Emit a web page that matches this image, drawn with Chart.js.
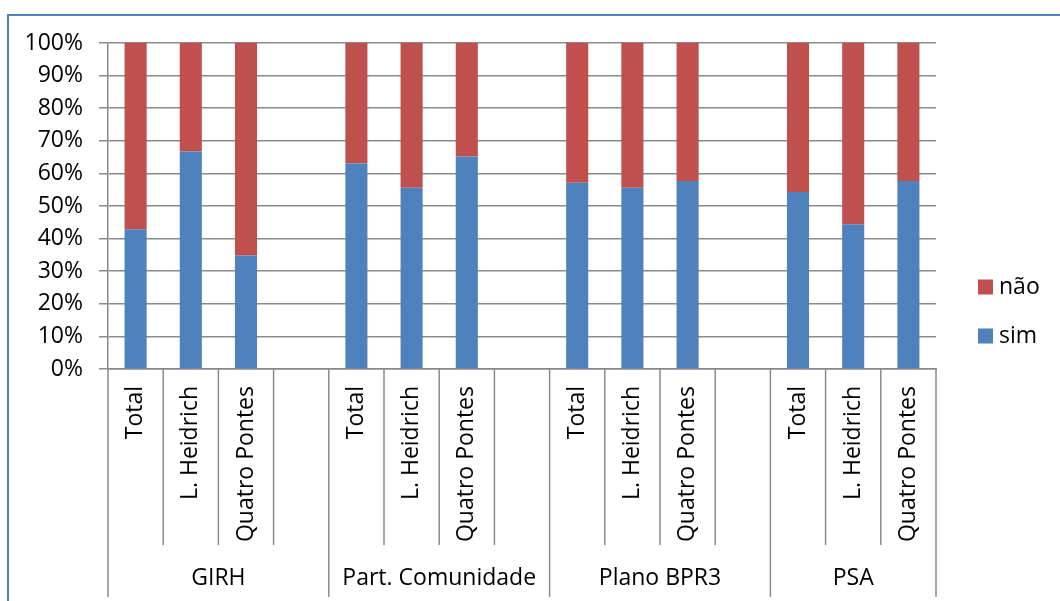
<!DOCTYPE html>
<html>
<head>
<meta charset="utf-8">
<script src="https://cdn.jsdelivr.net/npm/chart.js@4/dist/chart.umd.min.js"></script>
<style>
  html, body { margin: 0; padding: 0; background: #fff; }
  #wrap { position: relative; width: 1060px; height: 601px; overflow: hidden; }
  #frame { position: absolute; left: 7px; top: 14px; width: 1200px; height: 700px;
           border: 2px solid #4f81bd; box-sizing: border-box; pointer-events: none; }
  canvas { position: absolute; left: 0; top: 0; }
</style>
</head>
<body>
<div id="wrap">
  <canvas id="c" width="1060" height="601"></canvas>
  <div id="frame"></div>
</div>
<script>
// Sub-categories (blank slots separate the groups)
const categories = [
  'Total', 'L. Heidrich', 'Quatro Pontes', '',
  'Total', 'L. Heidrich', 'Quatro Pontes', '',
  'Total', 'L. Heidrich', 'Quatro Pontes', '',
  'Total', 'L. Heidrich', 'Quatro Pontes'
];
const groups = ['GIRH', 'Part. Comunidade', 'Plano BPR3', 'PSA'];
const groupSizes = [4, 4, 4, 3];

// Share of answers (%)
const sim = [42.9, 66.7, 34.8, null, 63.0, 55.6, 65.2, null, 57.1, 55.6, 57.7, null, 54.3, 44.4, 57.7];
const nao = [57.1, 33.3, 65.2, null, 37.0, 44.4, 34.8, null, 42.9, 44.4, 42.3, null, 45.7, 55.6, 42.3];

const yTicks = [0, 10, 20, 30, 40, 50, 60, 70, 80, 90, 100];

const FONT = '"Open Sans", "Noto Sans", sans-serif';
const FONT_SIZE = 23;
const GRID = '#8a8a8a';

// Category separators, group separators and group names under the x axis
const groupAxis = {
  id: 'groupAxis',
  afterDraw(chart) {
    const x = chart.scales.x;
    const area = chart.chartArea;
    const ctx = chart.ctx;
    const step = x.getPixelForValue(1) - x.getPixelForValue(0);
    const bounds = [0];
    groupSizes.reduce((acc, n) => { bounds.push(acc + n); return acc + n; }, 0);
    ctx.save();
    ctx.strokeStyle = GRID;
    ctx.lineWidth = 1.5;
    for (let i = 0; i <= categories.length; i++) {
      const px = x.getPixelForValue(0) - step / 2 + i * step;
      const len = bounds.includes(i) ? 228 : 176;
      ctx.beginPath();
      ctx.moveTo(px, area.bottom);
      ctx.lineTo(px, area.bottom + len);
      ctx.stroke();
    }
    ctx.fillStyle = '#000';
    ctx.font = FONT_SIZE + 'px ' + FONT;
    ctx.textAlign = 'center';
    ctx.textBaseline = 'middle';
    groups.forEach((g, k) => {
      const a = x.getPixelForValue(0) - step / 2 + bounds[k] * step;
      const b = x.getPixelForValue(0) - step / 2 + bounds[k + 1] * step;
      ctx.fillText(g, (a + b) / 2, area.bottom + 209);
    });
    ctx.restore();
  }
};

// Legend at the right, 'não' above 'sim'
const sideLegend = {
  id: 'sideLegend',
  afterDraw(chart) {
    const ctx = chart.ctx;
    const items = chart.data.datasets.slice().reverse();
    ctx.save();
    ctx.font = FONT_SIZE + 'px ' + FONT;
    ctx.textBaseline = 'middle';
    ctx.textAlign = 'left';
    items.forEach((ds, k) => {
      const cy = 287 + k * 49;
      ctx.fillStyle = ds.backgroundColor;
      ctx.fillRect(978, cy - 7.5, 15, 15);
      ctx.fillStyle = '#000';
      ctx.fillText(ds.label, 999, cy);
    });
    ctx.restore();
  }
};

new Chart(document.getElementById('c'), {
  type: 'bar',
  data: {
    labels: categories,
    datasets: [
      { label: 'sim', data: sim, backgroundColor: '#4f81bd', barPercentage: 0.4, categoryPercentage: 1 },
      { label: 'não', data: nao, backgroundColor: '#c0504d', barPercentage: 0.4, categoryPercentage: 1 }
    ]
  },
  options: {
    responsive: false,
    animation: false,
    layout: { padding: { top: 43, right: 124, left: 0, bottom: 0 } },
    plugins: { legend: { display: false }, tooltip: { enabled: false } },
    scales: {
      x: {
        stacked: true,
        grid: { display: false },
        border: { display: true, color: GRID, width: 1.5 },
        ticks: {
          color: '#000', font: { family: FONT, size: FONT_SIZE },
          minRotation: 90, maxRotation: 90, autoSkip: false, padding: 9
        },
        afterFit(scale) { scale.height = 232; }
      },
      y: {
        stacked: true,
        min: 0, max: 100,
        afterBuildTicks(scale) { scale.ticks = yTicks.map(v => ({ value: v })); },
        grid: { color: GRID, lineWidth: 1.5, tickLength: 9 },
        border: { display: true, color: GRID, width: 1.5 },
        ticks: {
          color: '#000', font: { family: FONT, size: FONT_SIZE }, padding: 16,
          callback: v => v + '%'
        },
        afterFit(scale) { scale.width = 108; }
      }
    }
  },
  plugins: [groupAxis, sideLegend]
});
</script>
</body>
</html>
